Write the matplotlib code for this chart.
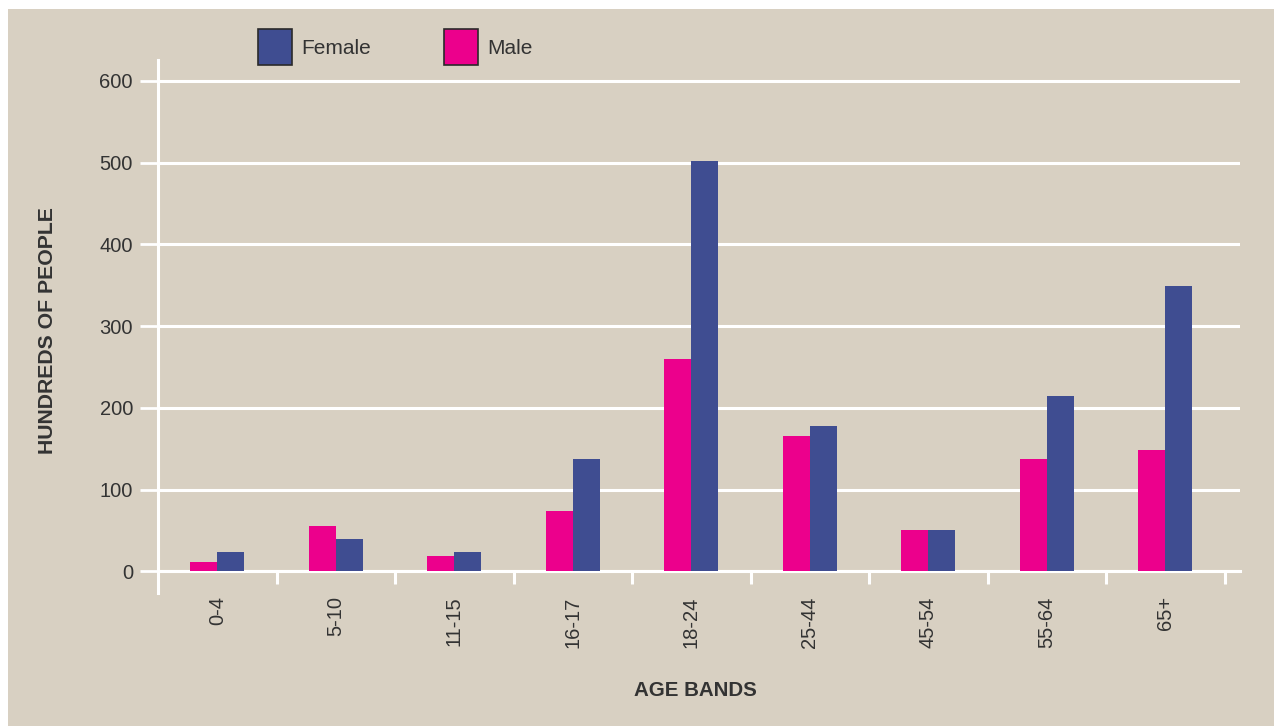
import matplotlib
matplotlib.use("Agg")
import matplotlib.pyplot as plt
from matplotlib.patches import Patch, Rectangle
import numpy as np

categories = ["0-4", "5-10", "11-15", "16-17", "18-24", "25-44", "45-54", "55-64", "65+"]
male = [11, 55, 19, 74, 260, 166, 50, 137, 148]
female = [24, 40, 24, 138, 502, 178, 50, 214, 349]
yticks = [0, 100, 200, 300, 400, 500, 600]

BG = "#D8D0C2"
MALE_C = "#EC008C"
FEMALE_C = "#3F4D91"
TXT = "#333333"

plt.rcParams['font.family'] = ['Liberation Sans', 'DejaVu Sans']

fig = plt.figure(figsize=(12.74, 7.26), dpi=100)
fig.patch.set_facecolor("white")
fig.patches.append(Rectangle((8 / 1274, 0), 1 - 8 / 1274, 1 - 9 / 726,
                             transform=fig.transFigure, facecolor=BG,
                             edgecolor="none", zorder=-10))

ax = fig.add_axes([158 / 1274, 1 - 593 / 726, (1240 - 158) / 1274, (593 - 60) / 726])
ax.set_facecolor("none")

x = np.arange(len(categories))
w = 0.228
ax.bar(x - w / 2, male, width=w, color=MALE_C, zorder=3)
ax.bar(x + w / 2, female, width=w, color=FEMALE_C, zorder=3)

ax.set_xlim(-0.5, 8.63)
ax.set_ylim(-26.5, 625.5)

ax.set_yticks(yticks)
ax.set_yticklabels([str(v) for v in yticks])
ax.yaxis.grid(True, color="white", linewidth=2.2, zorder=1)
ax.set_axisbelow(True)
ax.tick_params(axis="y", length=13, width=2, color="white", pad=5,
               labelsize=14.5, labelcolor=TXT)

ax.set_xticks(x)
ax.set_xticklabels(categories)
ax.set_xticks(np.arange(len(categories)) + 0.5, minor=True)
ax.tick_params(axis="x", which="major", length=0, pad=18, labelsize=14.5,
               labelcolor=TXT, labelrotation=90)
ax.tick_params(axis="x", which="minor", length=9, width=2.2, color="white", direction="out")
for lab in ax.get_xticklabels():
    lab.set_rotation(90)
    lab.set_va("top")
    lab.set_ha("center")

for s in ["top", "right"]:
    ax.spines[s].set_visible(False)
ax.spines["bottom"].set_position(("data", 0))
ax.spines["bottom"].set_color("white")
ax.spines["bottom"].set_linewidth(2.2)
ax.spines["bottom"].set_zorder(2)
ax.spines["left"].set_color("white")
ax.spines["left"].set_linewidth(2.2)

fig.text(48 / 1274, 1 - 331 / 726, "HUNDREDS OF PEOPLE", rotation=90, ha="center",
         va="center", fontsize=15.3, fontweight="bold", color=TXT)
fig.text(695 / 1274, 1 - 690 / 726, "AGE BANDS", ha="center", va="center",
         fontsize=14.8, fontweight="bold", color=TXT)

handles = [Patch(facecolor=FEMALE_C, edgecolor="#2a2a2a", linewidth=1.2, label="Female"),
           Patch(facecolor=MALE_C, edgecolor="#2a2a2a", linewidth=1.2, label="Male")]
leg = fig.legend(handles=handles, loc="upper left", bbox_to_anchor=(258 / 1274, 1 - 29 / 726),
                 ncol=2, frameon=False, fontsize=15, handlelength=1.63, handleheight=2.3,
                 handletextpad=0.45, columnspacing=3.5, borderpad=0, borderaxespad=0)
for t in leg.get_texts():
    t.set_color(TXT)

fig.savefig("out.png", dpi=100, facecolor=fig.get_facecolor())
